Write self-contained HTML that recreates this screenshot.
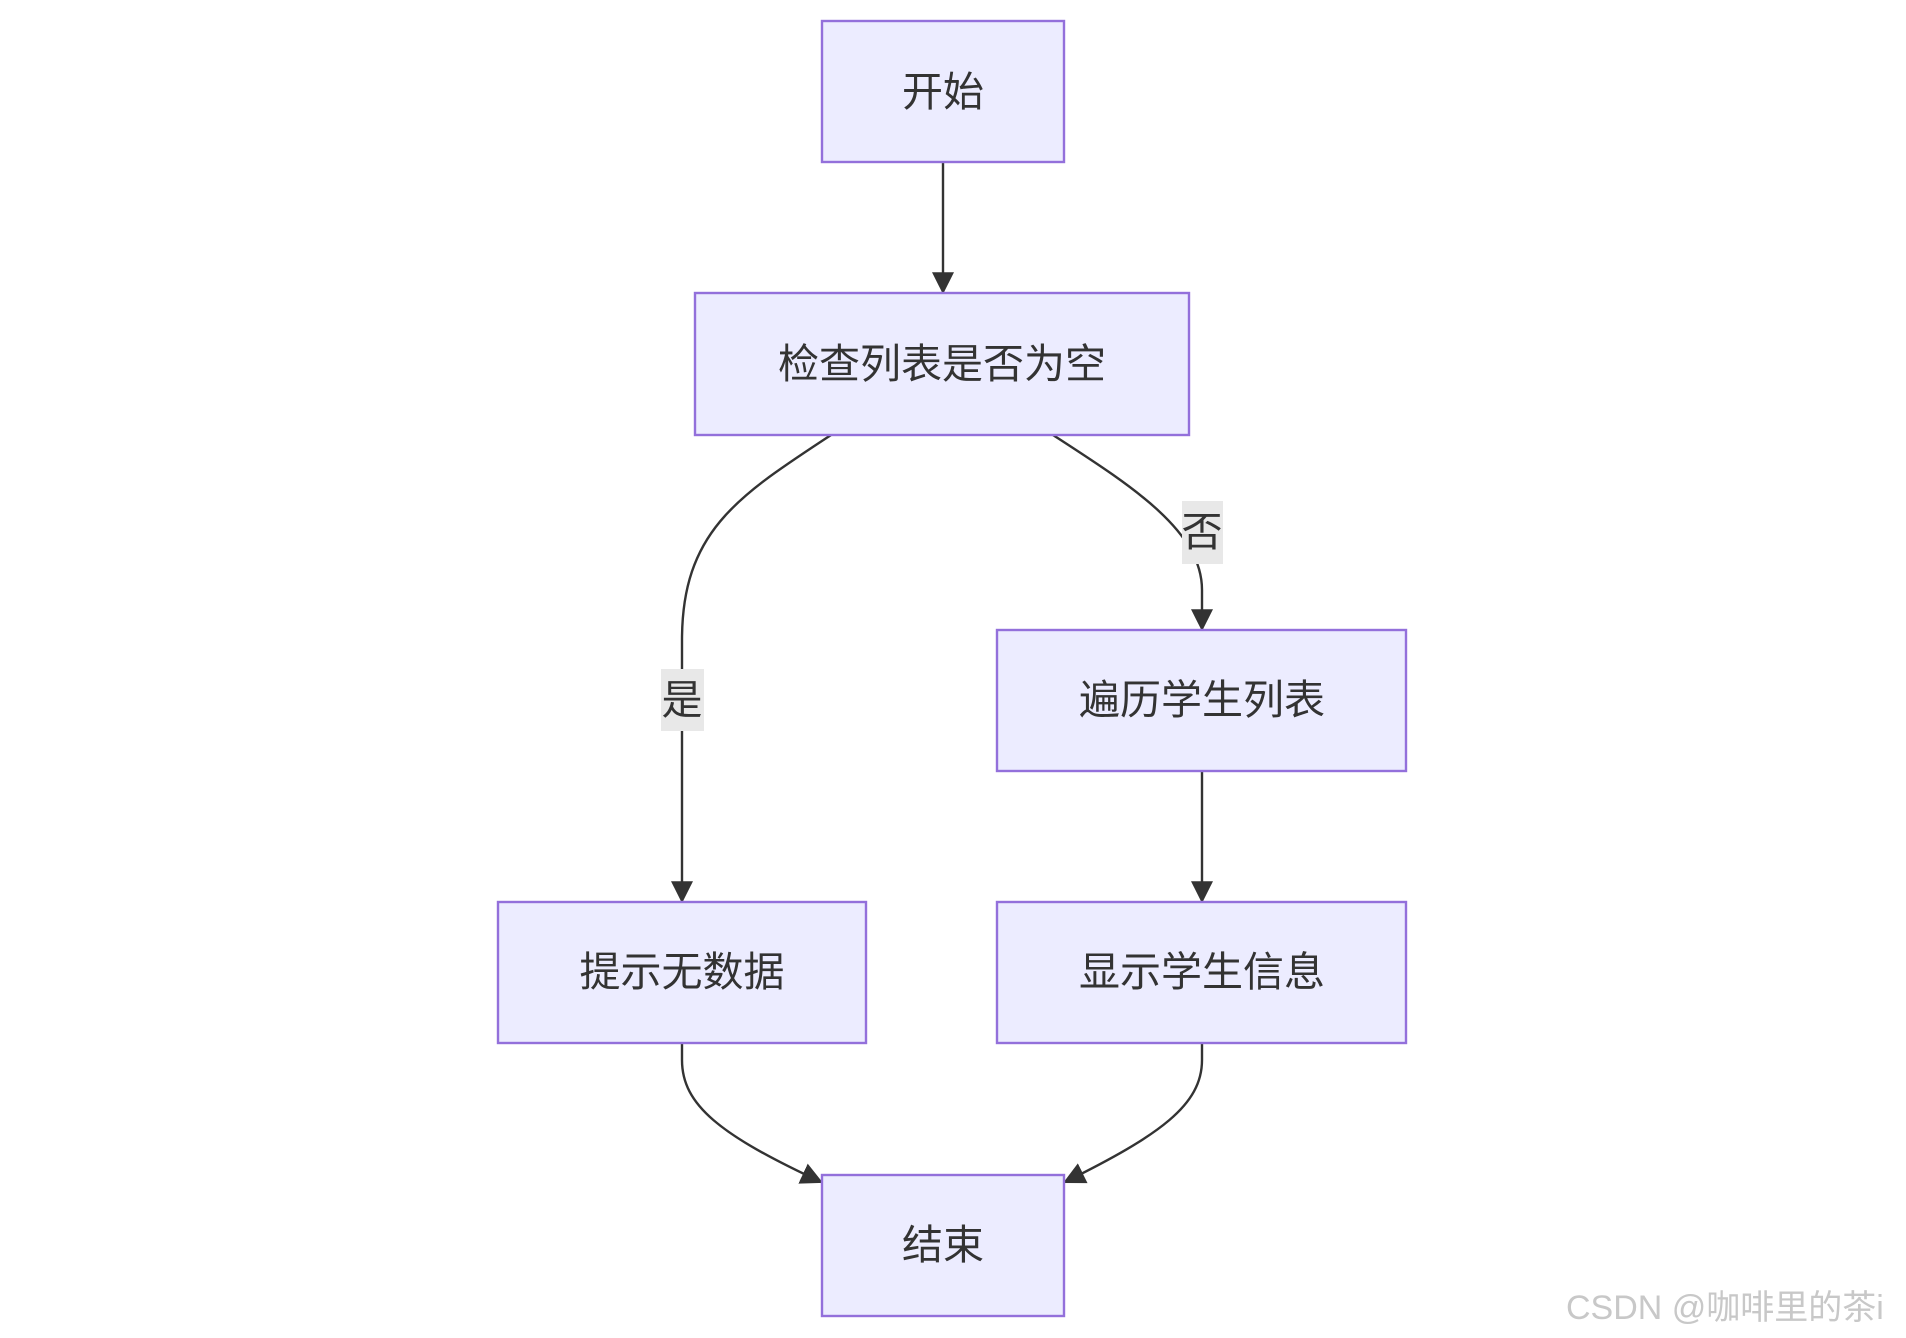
<!DOCTYPE html>
<html><head><meta charset="utf-8"><style>
html,body{margin:0;padding:0;background:#fff;}
svg{display:block;}
text{font-family:"Liberation Sans","Noto Sans CJK SC",sans-serif;}
</style></head><body>
<svg width="1906" height="1338" viewBox="0 0 1906 1338" xmlns="http://www.w3.org/2000/svg">
<defs><marker id="a" viewBox="0 0 10 10" refX="9" refY="5" markerWidth="10" markerHeight="10" markerUnits="userSpaceOnUse" orient="auto"><path d="M0,0 L10,5 L0,10 z" fill="#333"/></marker>
<marker id="b" viewBox="0 0 10 10" refX="9" refY="5" markerWidth="22" markerHeight="22" markerUnits="userSpaceOnUse" orient="auto"><path d="M0,0 L10,5 L0,10 z" fill="#333"/></marker></defs>
<g fill="none" stroke="#333" stroke-width="2.4">
<path d="M943,162 L943,292" marker-end="url(#b)"/>
<path d="M831,435 C740,495 682,530 682,640 L682,901" marker-end="url(#b)"/>
<path d="M1053,435 C1130,485 1202,530 1202,590 L1202,629" marker-end="url(#b)"/>
<path d="M1202,771 L1202,901" marker-end="url(#b)"/>
<path d="M682,1043 L682,1060 C682,1105 720,1135 821,1182" marker-end="url(#b)"/>
<path d="M1202,1043 L1202,1060 C1202,1105 1160,1135 1065,1182" marker-end="url(#b)"/>
</g>
<g fill="#ececff" stroke="#9370db" stroke-width="2.4">
<rect x="822" y="21" width="242" height="141"/>
<rect x="695" y="293" width="494" height="142"/>
<rect x="997" y="630" width="409" height="141"/>
<rect x="498" y="902" width="368" height="141"/>
<rect x="997" y="902" width="409" height="141"/>
<rect x="822" y="1175" width="242" height="141"/>
</g>
<rect x="661" y="669" width="43" height="62" fill="#e8e8e8"/>
<rect x="1182" y="501" width="41" height="63" fill="#e8e8e8"/>
<g fill="#333" font-size="41" text-anchor="middle">
<text x="943" y="106">开始</text>
<text x="942" y="378">检查列表是否为空</text>
<text x="1202" y="714">遍历学生列表</text>
<text x="682" y="986">提示无数据</text>
<text x="1202" y="986">显示学生信息</text>
<text x="943" y="1259">结束</text>
<text x="682" y="714">是</text>
<text x="1202" y="546">否</text>
</g>
<text x="1566" y="1319" font-size="34" fill="#c8c8c8">CSDN @咖啡里的茶i</text>
</svg>
</body></html>
